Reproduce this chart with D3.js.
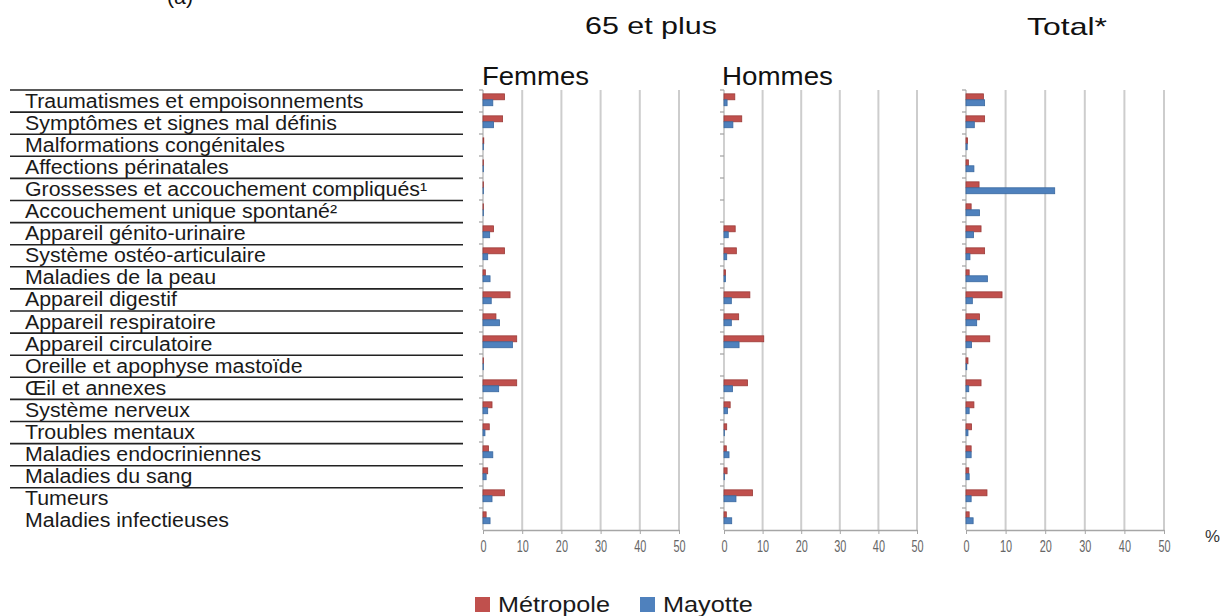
<!DOCTYPE html>
<html><head><meta charset="utf-8">
<script src="https://cdn.jsdelivr.net/npm/d3@7"></script>
<style>
html,body{margin:0;padding:0;background:#fff;}
svg{display:block;font-family:"Liberation Sans",Arial,sans-serif;}
</style></head>
<body>
<svg id="chart" width="1224" height="616"></svg>
<script>
const categories = [
  "Traumatismes et empoisonnements",
  "Symptômes et signes mal définis",
  "Malformations congénitales",
  "Affections périnatales",
  "Grossesses et accouchement compliqués¹",
  "Accouchement unique spontané²",
  "Appareil génito-urinaire",
  "Système ostéo-articulaire",
  "Maladies de la peau",
  "Appareil digestif",
  "Appareil respiratoire",
  "Appareil circulatoire",
  "Oreille et apophyse mastoïde",
  "Œil et annexes",
  "Système nerveux",
  "Troubles mentaux",
  "Maladies endocriniennes",
  "Maladies du sang",
  "Tumeurs",
  "Maladies infectieuses"
];
const seriesNames = ["Métropole", "Mayotte"];
const femmesMetropole = [5.5,5.0,0.2,0.1,0.1,0.1,2.7,5.5,0.6,6.9,3.3,8.6,0.1,8.6,2.3,1.6,1.4,1.2,5.5,0.8];
const femmesMayotte   = [2.5,2.7,0.1,0.1,0.1,0.1,1.7,1.2,1.8,2.1,4.2,7.5,0.1,4.0,1.2,0.5,2.5,0.8,2.3,1.8];
const hommesMetropole = [2.8,4.6,0,0,0,0,2.9,3.2,0.4,6.7,3.8,10.3,0,6.1,1.6,0.7,0.6,0.8,7.4,0.6];
const hommesMayotte   = [0.8,2.3,0,0,0,0,1.1,0.7,0.4,1.9,1.9,3.9,0,2.2,0.9,0.1,1.3,0.1,3.1,2.0];
const totalMetropole  = [4.4,4.7,0.4,0.6,3.3,1.3,3.8,4.7,0.8,9.1,3.4,6.0,0.5,3.8,2.0,1.4,1.3,0.7,5.3,0.8];
const totalMayotte    = [4.7,2.1,0.3,2.0,22.4,3.4,1.9,1.0,5.4,1.6,2.7,1.4,0.2,0.7,0.8,0.5,1.3,0.8,1.3,1.8];
const xTicks = [0,10,20,30,40,50];
const panelTitles = ["Femmes", "Hommes", "Total"];

const colors = {"Métropole": "#C0504D", "Mayotte": "#4F81BD"};
const strokes = {"Métropole": "#9b3b39", "Mayotte": "#3a689f"};

const svg = d3.select("#chart");
svg.append("rect").attr("width",1224).attr("height",616).attr("fill","#fff");

// text helper: place text and stretch horizontally to a target width
function placeText(str, x, y, size, width, opts = {}) {
  const t = svg.append("text")
    .attr("font-size", size)
    .attr("fill", opts.fill || "#111")
    .attr("font-weight", opts.weight || "normal")
    .text(str);
  const w = t.node().getComputedTextLength();
  const sx = width ? width / w : 1;
  t.attr("transform", `translate(${x},${y}) scale(${sx},1)`);
  return t;
}

// Titles
placeText("(a)", 167, 4, 20, 26);
placeText("65 et plus", 585, 34, 24, 132);
placeText("Total*", 1027, 35, 24, 80);
placeText(panelTitles[0], 482, 85, 25, 107);
placeText(panelTitles[1], 722, 85, 25, 111);
placeText("%", 1205, 542, 16, 15, {fill:"#333"});

// Left table of categories
const rowScale = d3.scaleBand().domain(categories).range([90, 532]).padding(0);
const table = svg.append("g");
table.selectAll("line.row").data(categories.slice(0, categories.length - 1))
  .join("line").attr("class","row")
  .attr("x1", 10).attr("x2", 463)
  .attr("y1", d => rowScale(d)).attr("y2", d => rowScale(d))
  .attr("stroke", "#222").attr("stroke-width", 1.6);
table.selectAll("text").data(categories).join("text")
  .attr("font-size", 19.5).attr("fill", "#1a1a1a")
  .attr("transform", d => `translate(25,${rowScale(d) + 17.5}) scale(1.095,1)`)
  .text(d => d);

// Panels
const panels = [
  {x0: 483, x1: 679, met: femmesMetropole, may: femmesMayotte},
  {x0: 724, x1: 917, met: hommesMetropole, may: hommesMayotte},
  {x0: 966, x1: 1164, met: totalMetropole, may: totalMayotte}
];
const yTop = 90, yBot = 530;
const y = d3.scaleBand().domain(categories).range([yTop, yBot]).padding(0);
const ySeries = d3.scaleBand().domain(seriesNames).range([0, y.bandwidth()])
  .paddingInner(0).paddingOuter(0.85).align(0.38);

panels.forEach((p, pi) => {
  const x = d3.scaleLinear().domain([0, 50]).range([p.x0, p.x1]);
  const g = svg.append("g");
  // gridlines
  g.selectAll("line.grid").data(xTicks.slice(1)).join("line").attr("class","grid")
    .attr("x1", d => x(d)).attr("x2", d => x(d))
    .attr("y1", yTop).attr("y2", yBot)
    .attr("stroke", "#cdcdcd").attr("stroke-width", 2);
  // bottom axis
  const ax = g.append("g").attr("transform", `translate(0,${yBot})`)
    .call(d3.axisBottom(x).tickValues(xTicks).tickSize(4).tickSizeOuter(0).tickFormat(d3.format("d")));
  ax.select(".domain").attr("stroke", "#a6a6a6").attr("stroke-width", 1.5);
  ax.selectAll(".tick line").attr("stroke", "#a6a6a6");
  ax.selectAll(".tick text")
    .attr("font-size", 16).attr("fill", "#666")
    .attr("font-family", "'Liberation Sans',Arial,sans-serif")
    .attr("y", 11)
    .attr("transform", "scale(0.68,1)");
  // left axis
  g.append("line").attr("x1", x(0)).attr("x2", x(0)).attr("y1", yTop).attr("y2", yBot)
    .attr("stroke", "#b0b0b0").attr("stroke-width", 1.2);
  g.selectAll("line.yt").data(categories).join("line").attr("class","yt")
    .attr("x1", x(0) - 4).attr("x2", x(0))
    .attr("y1", d => y(d)).attr("y2", d => y(d))
    .attr("stroke", "#a0a0a0").attr("stroke-width", 1.2);
  // bars
  const rows = categories.map((c, i) => ({c, vals: [
    {s: "Métropole", v: p.met[i]}, {s: "Mayotte", v: p.may[i]}]}));
  const rg = g.selectAll("g.row").data(rows).join("g").attr("class","row")
    .attr("transform", d => `translate(0,${y(d.c)})`);
  rg.selectAll("rect").data(d => d.vals).join("rect")
    .attr("x", x(0))
    .attr("y", d => ySeries(d.s))
    .attr("width", d => Math.max(0, x(d.v) - x(0)))
    .attr("height", ySeries.bandwidth())
    .attr("fill", d => colors[d.s])
    .attr("stroke", d => strokes[d.s])
    .attr("stroke-width", d => d.v > 0 ? 0.8 : 0);
});

// Legend
const legend = [
  {s: seriesNames[0], x: 475, tx: 498, w: 112},
  {s: seriesNames[1], x: 640, tx: 663, w: 90}
];
legend.forEach(l => {
  svg.append("rect").attr("x", l.x).attr("y", 597).attr("width", 15).attr("height", 15)
    .attr("fill", colors[l.s]);
  placeText(l.s, l.tx, 612, 22, l.w, {fill:"#1a1a1a"});
});
</script>
</body></html>
